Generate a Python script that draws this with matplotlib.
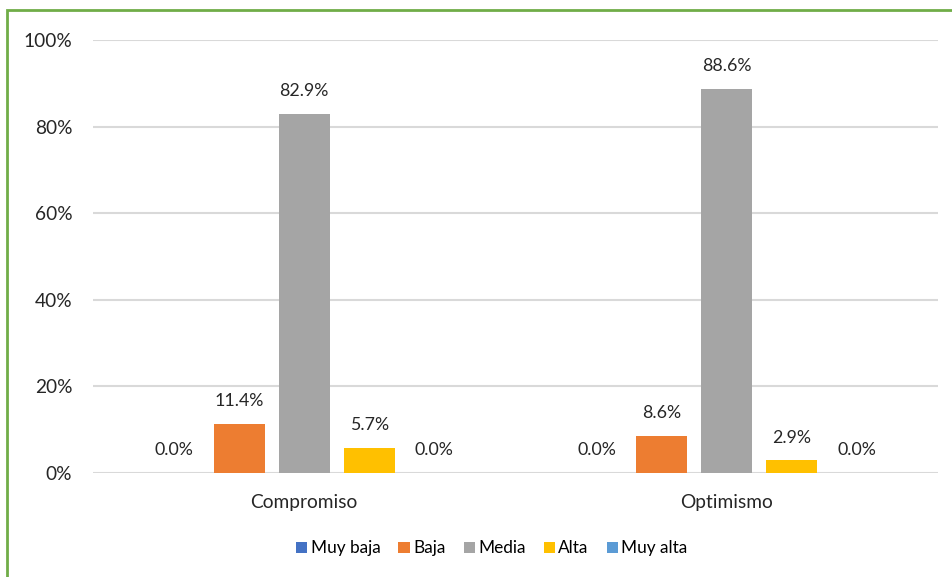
import matplotlib.pyplot as plt
import numpy as np
from matplotlib.patches import Rectangle

# data
categories = ["Compromiso", "Optimismo"]
series = ["Muy baja", "Baja", "Media", "Alta", "Muy alta"]
values = [
    [0.0, 0.0],     # Muy baja
    [11.4, 8.6],    # Baja
    [82.9, 88.6],   # Media
    [5.7, 2.9],     # Alta
    [0.0, 0.0],     # Muy alta
]
colors = ["#4472C4", "#ED7D31", "#A5A5A5", "#FFC000", "#5B9BD5"]

plt.rcParams['font.family'] = ['Lato', 'DejaVu Sans']

fig = plt.figure(figsize=(9.53, 5.77), dpi=100)
W, H = 953, 577
ax = fig.add_axes([93 / W, 1 - 473 / H, (938 - 93) / W, (473 - 40) / H])

x = np.arange(len(categories))
step = 0.154
width = 0.121
for i, (name, vals) in enumerate(zip(series, values)):
    pos = x + (i - 2) * step
    ax.bar(pos, vals, width, color=colors[i], label=name, zorder=3)
    for p, v in zip(pos, vals):
        ax.annotate(f"{v:.1f}%", (p, v), xytext=(0, 16.5), textcoords="offset points",
                    ha="center", va="center", fontsize=12.8, color="#262626")

ax.set_xlim(-0.5, 1.5)
ax.set_ylim(0, 100)
ax.set_yticks(range(0, 101, 20))
ax.set_yticklabels([f"{t}%" for t in range(0, 101, 20)], fontsize=13.8, color="#262626")
ax.set_xticks(x)
ax.set_xticklabels(categories, fontsize=13.8, color="#262626")
ax.tick_params(axis="both", length=0)
ax.tick_params(axis="y", pad=15)
ax.tick_params(axis="x", pad=15)
ax.grid(axis="y", color="#D9D9D9", linewidth=1.5, zorder=0)
for s in ax.spines.values():
    s.set_visible(False)

ax.legend(loc="center", bbox_to_anchor=(0.472, -0.174), ncol=5, frameon=False,
          fontsize=12.4, handlelength=0.65, handleheight=0.65, handletextpad=0.2,
          columnspacing=1.05)

# green frame
fig.patches.append(Rectangle((7 / W, -0.1), 1.2, 1 - 10 / H + 0.1, transform=fig.transFigure,
                             fill=False, edgecolor="#70AD47", linewidth=2))

fig.savefig("out.png", dpi=100)
